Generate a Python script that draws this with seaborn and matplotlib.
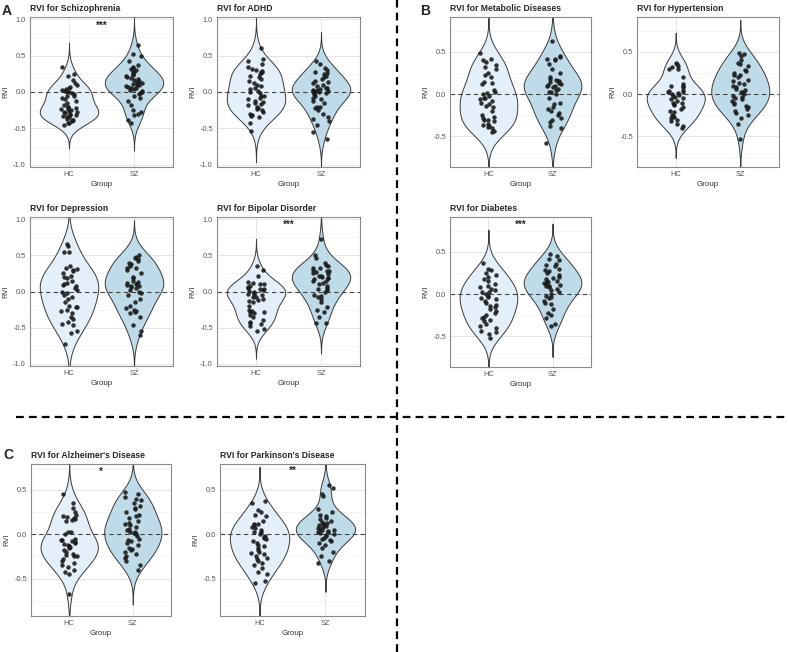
import numpy as np
import pandas as pd
import seaborn as sns
import matplotlib.pyplot as plt
from matplotlib.lines import Line2D

groups = ["HC", "SZ"]

# RVI values, one list per panel and group
scz_hc = [0.35, 0.25, 0.22, 0.17, 0.10, 0.07, 0.05, 0.03, 0.02, 0.0, -0.02, -0.03, -0.05, -0.08,
          -0.10, -0.13, -0.18, -0.20, -0.22, -0.23, -0.25, -0.27, -0.28, -0.30, -0.32, -0.33, -0.35,
          -0.38, -0.40, -0.42, -0.45, -0.43, -0.37, -0.26, -0.15, 0.12, -0.06, 0.04, -0.31, -0.29,
          -0.24, -0.34, -0.39, 0.0, -0.20]
scz_sz = [0.65, 0.52, 0.50, 0.42, 0.37, 0.35, 0.33, 0.30, 0.28, 0.25, 0.22, 0.20, 0.18, 0.16,
          0.14, 0.12, 0.10, 0.08, 0.06, 0.05, 0.03, 0.02, 0.0, -0.02, -0.05, -0.08, -0.12, -0.18,
          -0.25, -0.30, -0.32, -0.38, -0.42, 0.31, 0.19, 0.07, 0.11, 0.24, -0.03, 0.15, 0.04, 0.27,
          0.09, -0.28, 0.13]
adhd_hc = [0.60, 0.45, 0.42, 0.38, 0.32, 0.30, 0.28, 0.25, 0.22, 0.20, 0.15, 0.12, 0.08, 0.05,
           0.02, -0.02, -0.05, -0.08, -0.10, -0.12, -0.15, -0.18, -0.20, -0.22, -0.25, -0.28, -0.30,
           -0.33, -0.35, -0.42, -0.53, 0.10, 0.0, -0.17, 0.27, 0.35, -0.24, 0.18, -0.06, -0.32, 0.04,
           0.29, -0.14]
adhd_sz = [0.42, 0.38, 0.33, 0.30, 0.28, 0.25, 0.22, 0.18, 0.15, 0.12, 0.08, 0.05, 0.03, 0.02,
           0.0, -0.02, -0.05, -0.08, -0.10, -0.15, -0.20, -0.22, -0.25, -0.30, -0.35, -0.40, -0.45,
           -0.55, -0.65, 0.01, 0.04, -0.01, 0.06, 0.10, 0.26, -0.12, -0.21, 0.03, 0.0, 0.14, -0.37,
           0.20, -0.03]
dep_hc = [0.65, 0.63, 0.55, 0.55, 0.35, 0.33, 0.30, 0.25, 0.20, 0.18, 0.12, 0.10, 0.08, 0.05,
          0.0, -0.02, -0.05, -0.10, -0.15, -0.20, -0.22, -0.25, -0.30, -0.35, -0.38, -0.45, -0.47,
          -0.55, -0.57, -0.72, 0.15, 0.28, -0.08, 0.09, -0.21, 0.02, -0.42, 0.22, -0.27, 0.31]
dep_sz = [0.50, 0.48, 0.45, 0.40, 0.38, 0.35, 0.32, 0.30, 0.25, 0.20, 0.15, 0.12, 0.10, 0.08,
          0.05, 0.02, 0.0, -0.05, -0.10, -0.15, -0.20, -0.25, -0.27, -0.30, -0.35, -0.47, -0.55,
          -0.60, 0.09, 0.11, 0.06, 0.42, -0.28, 0.18, -0.02, 0.33, 0.47, 0.07, -0.23, 0.13]
bip_hc = [0.35, 0.30, 0.22, 0.12, 0.10, 0.08, 0.05, 0.03, 0.0, -0.02, -0.05, -0.08, -0.10, -0.12,
          -0.15, -0.20, -0.27, -0.28, -0.30, -0.32, -0.35, -0.40, -0.42, -0.45, -0.48, -0.52, -0.55,
          0.06, 0.02, -0.04, 0.11, -0.07, -0.26, 0.01, -0.29, -0.44, 0.13, -0.03, 0.04, -0.13]
bip_sz = [0.72, 0.50, 0.47, 0.40, 0.35, 0.32, 0.30, 0.28, 0.25, 0.22, 0.20, 0.18, 0.15, 0.12,
          0.10, 0.08, 0.05, 0.02, 0.0, -0.05, -0.07, -0.10, -0.15, -0.22, -0.25, -0.28, -0.35,
          -0.43, -0.43, 0.21, 0.17, 0.27, 0.19, 0.03, 0.24, -0.06, 0.14, 0.36, 0.33, 0.29]
met_hc = [0.48, 0.42, 0.40, 0.38, 0.30, 0.25, 0.20, 0.13, 0.12, 0.05, 0.02, 0.0, -0.02, -0.05,
          -0.08, -0.10, -0.12, -0.15, -0.20, -0.25, -0.27, -0.30, -0.32, -0.35, -0.37, -0.40, -0.43,
          -0.45, 0.34, 0.14, -0.04, -0.28, -0.38, 0.01, -0.14, -0.31, 0.22, -0.06, -0.39, 0.32]
met_sz = [0.63, 0.45, 0.42, 0.41, 0.40, 0.35, 0.30, 0.25, 0.20, 0.17, 0.15, 0.14, 0.12, 0.10,
          0.08, 0.05, 0.02, 0.0, -0.05, -0.10, -0.15, -0.17, -0.20, -0.22, -0.25, -0.30, -0.33,
          -0.38, -0.40, -0.58, 0.16, 0.13, 0.11, 0.18, -0.12, 0.06, 0.44, -0.28, 0.03, 0.09]
hyp_hc = [0.37, 0.35, 0.33, 0.30, 0.30, 0.20, 0.12, 0.10, 0.08, 0.05, 0.03, 0.02, 0.0, -0.02,
          -0.03, -0.05, -0.08, -0.10, -0.12, -0.15, -0.18, -0.20, -0.25, -0.27, -0.28, -0.30, -0.32,
          -0.35, -0.38, -0.40, 0.04, -0.06, -0.13, 0.01, -0.21, 0.32, -0.26, 0.09, -0.11, -0.01]
hyp_sz = [0.48, 0.47, 0.45, 0.40, 0.37, 0.35, 0.33, 0.28, 0.27, 0.25, 0.22, 0.20, 0.15, 0.13,
          0.10, 0.08, 0.05, 0.03, 0.0, -0.02, -0.05, -0.08, -0.10, -0.12, -0.15, -0.18, -0.20,
          -0.22, -0.25, -0.28, -0.35, -0.53, 0.06, -0.03, 0.12, 0.02, -0.14, 0.23, -0.06, 0.17]
dia_hc = [0.37, 0.30, 0.28, 0.25, 0.22, 0.20, 0.15, 0.12, 0.08, 0.05, 0.03, 0.0, -0.02, -0.03,
          -0.05, -0.08, -0.10, -0.13, -0.15, -0.18, -0.20, -0.22, -0.25, -0.28, -0.30, -0.35, -0.38,
          -0.40, -0.45, -0.47, -0.52, 0.06, -0.06, 0.10, -0.14, 0.18, -0.27, 0.02, -0.32, -0.44]
dia_sz = [0.47, 0.45, 0.42, 0.40, 0.35, 0.33, 0.30, 0.28, 0.25, 0.22, 0.20, 0.18, 0.15, 0.13,
          0.12, 0.10, 0.08, 0.05, 0.03, 0.0, -0.02, -0.05, -0.08, -0.10, -0.12, -0.18, -0.22, -0.25,
          -0.28, -0.35, -0.38, 0.16, 0.19, 0.14, 0.09, 0.34, 0.06, 0.27, 0.11, -0.03]
alz_hc = [0.45, 0.35, 0.30, 0.25, 0.20, 0.18, 0.17, 0.15, 0.03, 0.02, 0.0, -0.05, -0.08, -0.10,
          -0.12, -0.15, -0.18, -0.20, -0.22, -0.25, -0.28, -0.30, -0.35, -0.37, -0.40, -0.42, -0.45,
          -0.67, -0.09, -0.11, -0.06, -0.13, 0.19, -0.23, -0.32, 0.16, -0.07, -0.14, -0.24, 0.22]
alz_sz = [0.48, 0.45, 0.42, 0.40, 0.35, 0.32, 0.30, 0.25, 0.20, 0.18, 0.15, 0.12, 0.10, 0.08,
          0.05, 0.02, 0.0, -0.02, -0.05, -0.08, -0.10, -0.15, -0.18, -0.20, -0.22, -0.25, -0.30,
          -0.35, -0.40, 0.13, 0.03, -0.12, 0.28, 0.06, -0.17, 0.22, -0.27, 0.38, 0.01, -0.06]
park_hc = [0.37, 0.35, 0.27, 0.25, 0.22, 0.20, 0.15, 0.12, 0.10, 0.08, 0.05, 0.03, 0.0, -0.02,
           -0.05, -0.08, -0.10, -0.12, -0.15, -0.18, -0.20, -0.22, -0.25, -0.28, -0.30, -0.35, -0.38,
           -0.42, -0.45, -0.53, -0.55, 0.07, -0.03, 0.02, -0.21, -0.32, 0.11, -0.04, -0.13, -0.27]
park_sz = [0.55, 0.52, 0.45, 0.43, 0.28, 0.25, 0.22, 0.20, 0.18, 0.15, 0.12, 0.10, 0.08, 0.07,
           0.05, 0.03, 0.02, 0.0, -0.02, -0.05, -0.08, -0.10, -0.15, -0.20, -0.25, -0.30, -0.32,
           0.09, 0.04, 0.06, 0.11, -0.01, 0.13, 0.01, -0.04, 0.05, 0.14, -0.07, 0.17, -0.12]

titles = ["RVI for Schizophrenia", "RVI for ADHD", "RVI for Depression", "RVI for Bipolar Disorder",
          "RVI for Metabolic Diseases", "RVI for Hypertension", "RVI for Diabetes",
          "RVI for Alzheimer's Disease", "RVI for Parkinson's Disease"]
stars = ["***", "", "", "***", "", "", "***", "*", "**"]
star_y = [0.91, 0, 0, 0.92, 0, 0, 0.82, 0.70, 0.71]

pal = {"HC": "#e5eff9", "SZ": "#bfdbea"}

# layout: (left, top, right, bottom) in pixels of the 788x652 figure
W, H = 788, 652
boxes = [(30, 17, 173, 167), (217, 17, 360, 167), (30, 217, 173, 366), (217, 217, 360, 366),
         (450, 17, 591, 167), (637, 17, 779, 167), (450, 217, 591, 367),
         (31, 464, 171, 616), (220, 464, 365, 616)]
ylims = [(-1.03, 1.03)] * 4 + [(-0.86, 0.91)] * 3 + [(-0.92, 0.79)] * 2


def draw_panel(ax, hc, sz, title, ylim, star, sy):
    df = pd.DataFrame({"Group": ["HC"] * len(hc) + ["SZ"] * len(sz), "RVI": hc + sz})
    ax.set_axisbelow(True)
    sns.violinplot(data=df, x="Group", y="RVI", hue="Group", order=groups, hue_order=groups,
                   palette=pal, inner=None, cut=3, width=0.9, linewidth=0.7, bw_adjust=1.15,
                   linecolor="#3a3a3a", saturation=1, legend=False, ax=ax)
    sns.stripplot(data=df, x="Group", y="RVI", order=groups, color="#1c1c1c", size=3.2,
                  jitter=0.13, alpha=0.9, ax=ax, zorder=3)
    ax.axhline(0, color="#444444", ls=(0, (4, 3)), lw=0.8, zorder=2)
    ax.set_xlim(-0.6, 1.6)
    ax.set_ylim(*ylim)
    if ylim[1] > 1:
        ticks = [-1.0, -0.5, 0.0, 0.5, 1.0]
    else:
        ticks = [-0.5, 0.0, 0.5]
    ax.set_yticks(ticks)
    ax.set_yticklabels([f"{t:.1f}" for t in ticks])
    ax.set_yticks([-0.75, -0.25, 0.25, 0.75], minor=True)
    ax.grid(True, which="major", color="#e2e2e2", lw=0.6)
    ax.grid(True, which="minor", axis="y", color="#f0f0f0", lw=0.5)
    for s in ax.spines.values():
        s.set_visible(True)
        s.set_color("#8a8a8a")
        s.set_linewidth(0.8)
    ax.tick_params(which="major", length=1.5, width=0.5, color="#8a8a8a",
                   labelsize=5.3, labelcolor="#555555", pad=1.5)
    ax.tick_params(which="minor", length=0)
    ax.set_xlabel("Group", fontsize=5.8, color="#333333", labelpad=2)
    ax.set_ylabel("RVI", fontsize=5.5, color="#333333", labelpad=3)
    ax.set_title(title, loc="left", fontsize=6.2, fontweight="bold", pad=4)
    if star:
        ax.text(0.5, sy, star, ha="center", va="center", fontsize=7, fontweight="bold")


def main():
    np.random.seed(7)
    sns.set_style("white")
    plt.rcParams["font.family"] = ["Liberation Sans", "DejaVu Sans"]
    plt.rcParams["axes.unicode_minus"] = False

    fig = plt.figure(figsize=(W / 100, H / 100), dpi=100)
    data = [(scz_hc, scz_sz), (adhd_hc, adhd_sz), (dep_hc, dep_sz), (bip_hc, bip_sz),
            (met_hc, met_sz), (hyp_hc, hyp_sz), (dia_hc, dia_sz),
            (alz_hc, alz_sz), (park_hc, park_sz)]
    for i, (hc, sz) in enumerate(data):
        l, t, r, b = boxes[i]
        ax = fig.add_axes([l / W, 1 - b / H, (r - l) / W, (b - t) / H])
        draw_panel(ax, hc, sz, titles[i], ylims[i], stars[i], star_y[i])

    # panel letters
    fig.text(2 / W, 1 - 11 / H, "A", fontsize=10, fontweight="bold", va="center")
    fig.text(420 / W, 1 - 11 / H, "B", fontsize=10, fontweight="bold", va="center")
    fig.text(3 / W, 1 - 455 / H, "C", fontsize=10, fontweight="bold", va="center")

    # dashed separators
    fig.add_artist(Line2D([397 / W, 397 / W], [0, 1], transform=fig.transFigure,
                          color="black", lw=1.6, ls=(0, (3.5, 2.3))))
    fig.add_artist(Line2D([16 / W, 1], [1 - 417 / H, 1 - 417 / H], transform=fig.transFigure,
                          color="black", lw=1.6, ls=(0, (3.5, 2.3))))

    fig.savefig("out.png", dpi=100)


if __name__ == "__main__":
    main()
